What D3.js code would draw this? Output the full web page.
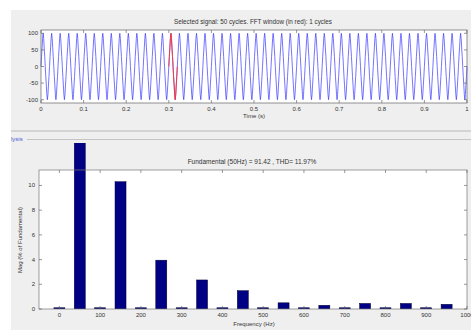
<!DOCTYPE html>
<html>
<head>
<meta charset="utf-8">
<script src="https://cdn.jsdelivr.net/npm/d3@7"></script>
<style>
  body { margin: 0; background: #ffffff; }
  svg text { font-family: "Liberation Sans", Arial, sans-serif; fill: #333; }
</style>
</head>
<body>
<div id="chart"></div>
<script>
// Data
// one period of the selected signal (16 samples), repeated for each cycle
var cycleSamples = [0, 30, 56, 85, 100, 85, 56, 30, 0, -30, -56, -85, -100, -85, -56, -30];
var cycles = 50;
var fftWindow = [0.30, 0.32];
var timeTicks = [0, 0.1, 0.2, 0.3, 0.4, 0.5, 0.6, 0.7, 0.8, 0.9, 1];
var signalTicks = [-100, -50, 0, 50, 100];

// harmonic spectrum (% of fundamental)
var freqs = [0, 50, 100, 150, 200, 250, 300, 350, 400, 450, 500, 550, 600, 650, 700, 750, 800, 850, 900, 950];
var mags = [0.1, 100, 0.1, 10.3, 0.1, 3.95, 0.1, 2.35, 0.1, 1.48, 0.1, 0.5, 0.1, 0.3, 0.1, 0.45, 0.1, 0.45, 0.1, 0.38];
var freqTicks = [0, 100, 200, 300, 400, 500, 600, 700, 800, 900, 1000];
var magTicks = [0, 2, 4, 6, 8, 10];

var width = 471;
var height = 333;

var svg = d3.select("#chart")
  .append("svg")
  .attr("width", width)
  .attr("height", height);

// Panel backgrounds
svg.append("rect")
  .attr("x", 11).attr("y", 10)
  .attr("width", width - 11).attr("height", 320)
  .attr("fill", "#efefef");
svg.append("line")
  .attr("x1", 11).attr("x2", width).attr("y1", 131).attr("y2", 131)
  .attr("stroke", "#b8b8b8").attr("stroke-width", 1);
svg.append("line")
  .attr("x1", 27).attr("x2", width).attr("y1", 139.5).attr("y2", 139.5)
  .attr("stroke", "#c4c4c4").attr("stroke-width", 1);
svg.append("text")
  .attr("x", 11).attr("y", 141)
  .style("font-size", "6px")
  .style("fill", "#4a5ad0")
  .text("lysis");

// Helper for inward ticks on all four sides of a box
function boxTicks(g, x, y, xt, yt, x0, x1, y0, y1) {
  xt.forEach(function (v) {
    g.append("line").attr("x1", x(v)).attr("x2", x(v)).attr("y1", y1).attr("y2", y1 - 3)
      .attr("stroke", "#555").attr("stroke-width", 0.6);
    g.append("line").attr("x1", x(v)).attr("x2", x(v)).attr("y1", y0).attr("y2", y0 + 3)
      .attr("stroke", "#555").attr("stroke-width", 0.6);
  });
  yt.forEach(function (v) {
    g.append("line").attr("x1", x0).attr("x2", x0 + 3).attr("y1", y(v)).attr("y2", y(v))
      .attr("stroke", "#555").attr("stroke-width", 0.6);
    g.append("line").attr("x1", x1).attr("x2", x1 - 3).attr("y1", y(v)).attr("y2", y(v))
      .attr("stroke", "#555").attr("stroke-width", 0.6);
  });
}

// ---------- Top plot: selected signal ----------
var sigBox = { x0: 41, x1: 467, y0: 30, y1: 103 };
var xT = d3.scaleLinear().domain([0, 1]).range([sigBox.x0, sigBox.x1]);
var yT = d3.scaleLinear().domain([-110, 110]).range([sigBox.y1, sigBox.y0]);

var gTop = svg.append("g");
gTop.append("rect")
  .attr("x", sigBox.x0).attr("y", sigBox.y0)
  .attr("width", sigBox.x1 - sigBox.x0).attr("height", sigBox.y1 - sigBox.y0)
  .attr("fill", "#ffffff");

// build the signal by repeating one period across all cycles
var signal = [];
var n = cycleSamples.length;
for (var c = 0; c < cycles; c++) {
  cycleSamples.forEach(function (v, i) {
    signal.push({ t: (c * n + i) / (cycles * n), v: v });
  });
}
signal.push({ t: 1, v: cycleSamples[0] });

var line = d3.line().x(function (d) { return xT(d.t); }).y(function (d) { return yT(d.v); });

gTop.append("path")
  .datum(signal)
  .attr("d", line)
  .attr("fill", "none")
  .attr("stroke", "#3a3aff")
  .attr("stroke-width", 0.7);

gTop.append("path")
  .datum(signal.filter(function (d) { return d.t >= fftWindow[0] - 1e-9 && d.t <= fftWindow[1] + 1e-9; }))
  .attr("d", line)
  .attr("fill", "none")
  .attr("stroke", "#ff3030")
  .attr("stroke-width", 0.9);

gTop.append("rect")
  .attr("x", sigBox.x0).attr("y", sigBox.y0)
  .attr("width", sigBox.x1 - sigBox.x0).attr("height", sigBox.y1 - sigBox.y0)
  .attr("fill", "none").attr("stroke", "#666").attr("stroke-width", 0.7);
boxTicks(gTop, xT, yT, timeTicks, signalTicks, sigBox.x0, sigBox.x1, sigBox.y0, sigBox.y1);

gTop.selectAll(".xlab")
  .data(timeTicks).enter().append("text")
  .attr("x", function (d) { return xT(d); })
  .attr("y", sigBox.y1 + 8)
  .attr("text-anchor", "middle")
  .style("font-size", "6px")
  .text(function (d) { return d; });
gTop.selectAll(".ylab")
  .data(signalTicks).enter().append("text")
  .attr("x", sigBox.x0 - 3)
  .attr("y", function (d) { return yT(d) + 2; })
  .attr("text-anchor", "end")
  .style("font-size", "6px")
  .text(function (d) { return d; });

gTop.append("text")
  .attr("x", 253).attr("y", 24)
  .attr("text-anchor", "middle")
  .style("font-size", "6.3px")
  .text("Selected signal: 50 cycles. FFT window (in red): 1 cycles");
gTop.append("text")
  .attr("x", 254).attr("y", 118)
  .attr("text-anchor", "middle")
  .style("font-size", "6px")
  .text("Time (s)");

// ---------- Bottom plot: harmonic spectrum ----------
var fftBox = { x0: 39, x1: 467, y0: 170, y1: 309 };
var xB = d3.scaleLinear().domain([-50, 1000]).range([fftBox.x0, fftBox.x1]);
var yB = d3.scaleLinear().domain([0, 11.25]).range([fftBox.y1, fftBox.y0]);
var barW = xB(27) - xB(0);

var gBot = svg.append("g");
gBot.append("rect")
  .attr("x", fftBox.x0).attr("y", fftBox.y0)
  .attr("width", fftBox.x1 - fftBox.x0).attr("height", fftBox.y1 - fftBox.y0)
  .attr("fill", "#ffffff");

// bars may rise above the box, up to the panel line
svg.append("clipPath").attr("id", "barclip")
  .append("rect").attr("x", 0).attr("y", 143).attr("width", width).attr("height", fftBox.y1 - 143);

gBot.append("g")
  .attr("clip-path", "url(#barclip)")
  .selectAll("rect")
  .data(freqs).enter().append("rect")
  .attr("x", function (d) { return xB(d) - barW / 2; })
  .attr("y", function (d, i) { return yB(mags[i]); })
  .attr("width", barW)
  .attr("height", function (d, i) { return fftBox.y1 - yB(mags[i]); })
  .attr("fill", "#000085")
  .attr("stroke", "#000033")
  .attr("stroke-width", 0.5);

gBot.append("rect")
  .attr("x", fftBox.x0).attr("y", fftBox.y0)
  .attr("width", fftBox.x1 - fftBox.x0).attr("height", fftBox.y1 - fftBox.y0)
  .attr("fill", "none").attr("stroke", "#777").attr("stroke-width", 0.7);
boxTicks(gBot, xB, yB, freqTicks, magTicks, fftBox.x0, fftBox.x1, fftBox.y0, fftBox.y1);

gBot.selectAll(".xlab")
  .data(freqTicks).enter().append("text")
  .attr("x", function (d) { return xB(d); })
  .attr("y", fftBox.y1 + 8)
  .attr("text-anchor", "middle")
  .style("font-size", "6px")
  .text(function (d) { return d; });
gBot.selectAll(".ylab")
  .data(magTicks).enter().append("text")
  .attr("x", fftBox.x0 - 4)
  .attr("y", function (d) { return yB(d) + 2; })
  .attr("text-anchor", "end")
  .style("font-size", "6px")
  .text(function (d) { return d; });

gBot.append("text")
  .attr("x", 252).attr("y", 164)
  .attr("text-anchor", "middle")
  .style("font-size", "6.5px")
  .text("Fundamental (50Hz) = 91.42 , THD= 11.97%");
gBot.append("text")
  .attr("x", 254).attr("y", 326)
  .attr("text-anchor", "middle")
  .style("font-size", "6px")
  .text("Frequency (Hz)");
gBot.append("text")
  .attr("transform", "translate(22," + 240 + ")rotate(-90)")
  .attr("text-anchor", "middle")
  .style("font-size", "6px")
  .text("Mag (% of Fundamental)");
</script>
</body>
</html>
